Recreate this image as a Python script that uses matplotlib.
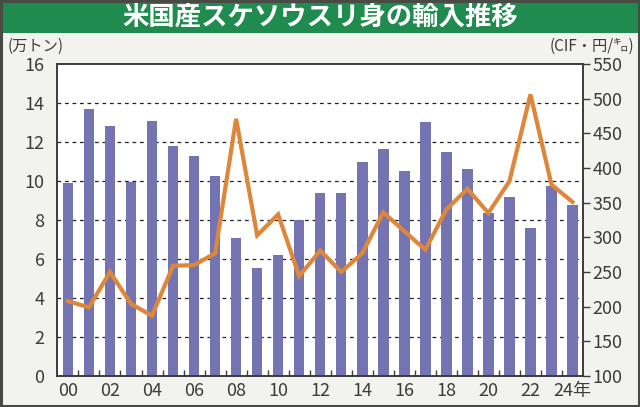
import matplotlib
matplotlib.use("Agg")
import matplotlib.pyplot as plt
from matplotlib.patches import Rectangle
import numpy as np

plt.rcParams['font.family'] = ['Noto Sans CJK JP', 'DejaVu Sans']

years = list(range(2000, 2025))
volume = [9.9, 13.7, 12.8, 9.95, 13.1, 11.8, 11.27, 10.28, 7.06, 5.54, 6.19, 8.0, 9.39,
          9.39, 10.98, 11.65, 10.49, 13.04, 11.5, 10.62, 8.34, 9.2, 7.59, 9.73, 8.79]
price = [208, 199, 250, 204, 187, 259, 260, 277, 471, 303, 333, 244, 281,
         250, 277, 336, 309, 282, 340, 370, 335, 381, 506, 376, 351]
xlabels = ['00', '02', '04', '06', '08', '10', '12', '14', '16', '18', '20', '22', '24年']
left_ticks = [0, 2, 4, 6, 8, 10, 12, 14, 16]
right_ticks = [100, 150, 200, 250, 300, 350, 400, 450, 500, 550]

title = '米国産スケソウスリ身の輸入推移'
left_unit = '(万トン)'
right_unit = '(CIF・円/㌔)'

bar_color = '#7474b2'
line_color = '#de873a'
green = '#1f8b4e'
bg = '#f2f2ef'
dark = '#3c3c3c'

fig = plt.figure(figsize=(6.4, 4.07), dpi=100, facecolor=bg)
# green banner
fig.patches.append(Rectangle((0, 1 - 33/407), 1, 31/407, transform=fig.transFigure,
                             facecolor=green, edgecolor='none', zorder=0))
# outer border
fig.patches.append(Rectangle((0.0015, 0.002), 0.997, 0.995, transform=fig.transFigure,
                             facecolor='none', edgecolor='#4a4a44', linewidth=2.2, zorder=5))
fig.text(0.5, 1 - 18/407, title, color='white', fontsize=19, fontweight='bold',
         ha='center', va='center')

ax = fig.add_axes([57/640, 1 - 376/407, (583 - 57)/640, (376 - 64)/407])
ax.set_facecolor('white')
x = np.arange(len(years))
ax.bar(x, volume, width=0.5, color=bar_color, zorder=2)
ax.set_xlim(-0.52, 24.5)
ax.set_ylim(0, 16)
ax.set_yticks(left_ticks)
ax.set_yticklabels([str(t) for t in left_ticks])
for t in left_ticks[1:-1]:
    ax.axhline(t, color='#222222', linestyle=(0, (3, 3)), linewidth=0.9, zorder=1)
ax.tick_params(axis='y', length=0, labelsize=13, pad=9, colors=dark)
ax.set_xticks(x[::2])
ax.set_xticklabels(xlabels)
ax.set_xticks(x[:-1] + 0.5, minor=True)
ax.tick_params(axis='x', which='major', length=0, labelsize=13, pad=4, colors=dark)
ax.tick_params(axis='x', which='minor', direction='in', length=4, width=1, color=dark)
for s in ax.spines.values():
    s.set_color(dark)
    s.set_linewidth(1.2)

ax2 = ax.twinx()
ax2.plot(x, price, color=line_color, linewidth=3.0, zorder=3, solid_joinstyle='miter')
ax2.set_ylim(100, 550)
ax2.set_yticks(right_ticks)
ax2.set_yticklabels([str(t) for t in right_ticks])
ax2.tick_params(axis='y', direction='out', length=5, width=1, labelsize=13, pad=2, colors=dark)
for s in ax2.spines.values():
    s.set_color(dark)
    s.set_linewidth(1.2)

fig.text(8/640, 1 - 46/407, left_unit, fontsize=11, color=dark, ha='left', va='center')
fig.text(634/640, 1 - 46/407, right_unit, fontsize=11, color=dark, ha='right', va='center')

fig.savefig('out.png', dpi=100, facecolor=bg)
